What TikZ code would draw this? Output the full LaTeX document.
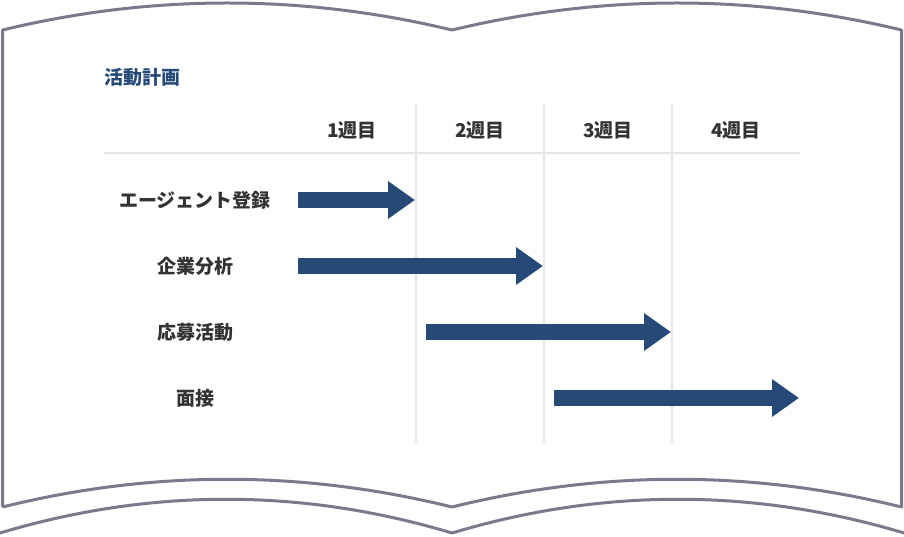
\documentclass[tikz,border=0pt]{standalone}
\usepackage{fontspec}
\newfontfamily\jp{Noto Sans CJK JP}
\usepackage{xcolor}
\usetikzlibrary{arrows.meta,positioning}
\definecolor{bookline}{HTML}{7A7A8E}
\definecolor{navy}{HTML}{264A77}
\definecolor{gridgray}{HTML}{E6E6E6}
\definecolor{textgray}{HTML}{333333}

\begin{document}
\begin{tikzpicture}
  [x=1pt,y=-1pt,
   every node/.style={font=\jp\bfseries\fontsize{19}{22}\selectfont,text=textgray,inner sep=0pt},
   page/.style={draw=bookline,line width=3pt,line join=round},
   grid/.style={draw=gridgray,line width=1.2pt},
   bar/.style={draw=navy,line width=16pt,-{Triangle[width=36pt,length=27pt]}}]
  \useasboundingbox (0,0) rectangle (904,537);

  % open book
  \draw[page] (2.5,507) -- (2.5,30) .. controls (152,-6) and (302,-6) .. (452,30)
    .. controls (602,-6) and (752,-6) .. (901.5,30) -- (901.5,507)
    .. controls (752,470) and (602,470) .. (452,507)
    .. controls (302,470) and (152,470) .. (2.5,507);
  \draw[page] (0,533) .. controls (150,488) and (302,488) .. (452,533)
    .. controls (602,488) and (754,488) .. (904,533);

  % grid
  \draw[grid] (104,153) -- (800,153);
  \foreach \x in {416,544,672}
    \draw[grid] (\x,104) -- (\x,442);

  \node[text=navy,anchor=west] (title) at (104,77) {活動計画};

  \foreach \w/\x in {1/352,2/480,3/608,4/736}
    \node (week\w) at (\x,130) {{\w}週目};

  \foreach \r/\task/\y in {1/エージェント登録/200,2/企業分析/266,3/応募活動/332,4/面接/398}
    \node (task\r) at (195,\y) {\task};

  \foreach \r/\y/\from/\to in {1/200/298/415,2/266/298/543,3/332/426/671,4/398/554/799}
  {
    \coordinate (s\r) at (\from,\y);
    \coordinate (e\r) at (\to,\y);
    \draw[bar] (s\r) -- (e\r);
  }

\end{tikzpicture}
\end{document}
